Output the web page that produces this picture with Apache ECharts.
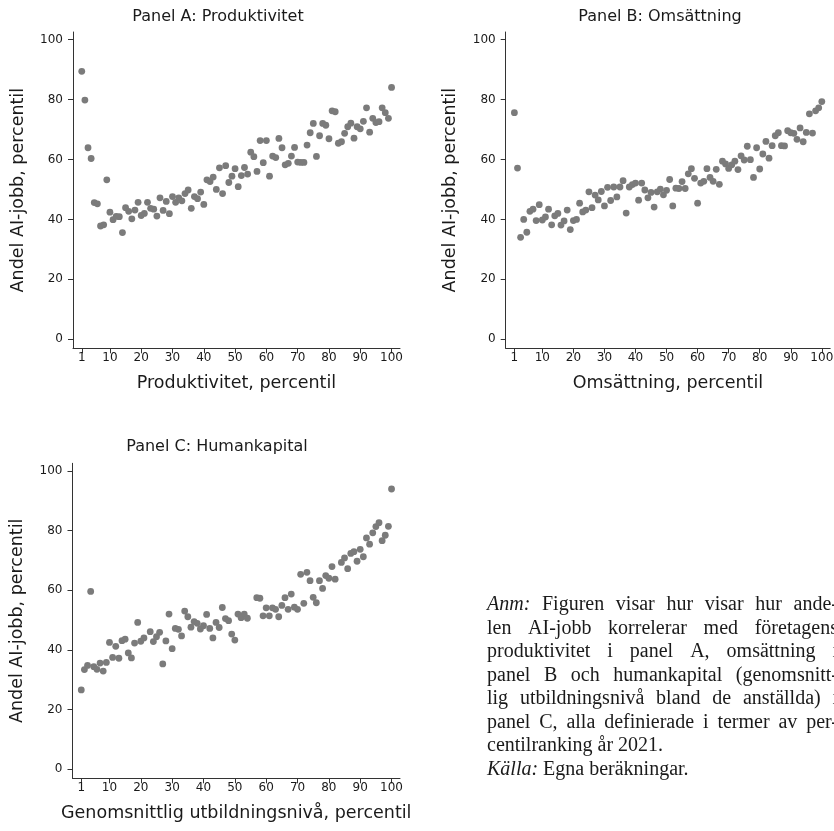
<!DOCTYPE html>
<html>
<head>
<meta charset="utf-8">
<script src="https://cdn.jsdelivr.net/npm/echarts@6/dist/echarts.min.js"></script>
<style>
html,body{margin:0;padding:0;background:#ffffff;}
#chart{width:834px;height:831px;}
</style>
</head>
<body>
<div id="chart"></div>
<script>
// ---------- data ----------
const percentiles = [1,2,3,4,5,6,7,8,9,10,11,12,13,14,15,16,17,18,19,20,
  21,22,23,24,25,26,27,28,29,30,31,32,33,34,35,36,37,38,39,40,
  41,42,43,44,45,46,47,48,49,50,51,52,53,54,55,56,57,58,59,60,
  61,62,63,64,65,66,67,68,69,70,71,72,73,74,75,76,77,78,79,80,
  81,82,83,84,85,86,87,88,89,90,91,92,93,94,95,96,97,98,99,100];

const xTicks = [1,10,20,30,40,50,60,70,80,90,100];
const yTicks = [0,20,40,60,80,100];

const panelTitles = ['Panel A: Produktivitet','Panel B: Omsättning','Panel C: Humankapital'];
const xNames = ['Produktivitet, percentil','Omsättning, percentil','Genomsnittlig utbildningsnivå, percentil'];
const yName = 'Andel AI-jobb, percentil';

const panelA = [89.4,79.8,63.9,60.3,45.6,45.2,37.8,38.2,53.2,42.4,
  39.9,41,40.9,35.6,43.9,42.7,40.2,43.1,45.7,41.3,
  42,45.7,43.7,43.4,41.1,47.2,43,46,41.9,47.6,
  45.7,47.2,46.2,48.6,49.8,43.7,47.6,46.9,49.1,45,
  53.2,52.6,54.1,50,57.2,48.6,57.9,52.3,54.4,56.9,
  50.9,54.6,57.3,55.1,62.4,60.9,56,66.3,58.9,66.3,
  54.4,61.1,60.6,67,63.9,58.2,58.7,61.1,64,59.1,
  59,59,64.8,68.9,72,61,67.9,72,71.4,66.9,
  76.2,75.9,65.4,65.9,68.7,70.9,72.1,67.1,70.9,70.2,
  72.7,77.2,69.1,73.7,72.3,72.6,77.2,75.6,73.7,84];

const panelB = [75.6,57.1,34,40,35.7,42.7,43.4,39.6,44.9,39.8,
  40.8,43.4,38.2,41.2,42,38.1,39.5,43.1,36.6,39.6,
  40,45.4,42.5,43.1,49.2,43.9,48.1,46.5,49.3,44.5,
  50.7,46.3,50.8,47.5,50.8,52.9,42.1,50.8,51.6,52.1,
  46.4,52.1,49.8,47.2,49,44.1,49.2,50.1,48.2,49.7,
  53.3,44.5,50.4,50.3,52.6,50.3,55.2,56.9,53.7,45.4,
  52.1,52.7,56.9,54,52.7,56.7,51.7,59.4,58.5,57,
  58.2,59.4,56.6,61.2,59.8,64.4,59.9,54,63.9,56.8,
  61.8,66,60.4,64.6,67.9,68.9,64.6,64.5,69.6,68.9,
  68.7,66.7,70.5,65.9,69,75.2,68.8,76.2,77.2,79.3];

const panelC = [26.6,33.4,34.8,59.6,34.4,33.5,35.6,32.9,35.8,42.5,
  37.5,41.2,37.2,43.1,43.6,39,37.3,42.3,49.2,42.9,
  44,null,46.1,42.8,44.4,45.9,35.3,43,52,40.4,
  47.2,46.9,44.7,53,51.1,47.6,49.5,48.9,47,48.1,
  51.9,47.2,44,49.2,47.5,54.2,50.5,49.8,45.3,43.3,
  52,50.8,52,50.6,null,null,57.5,57.3,51.4,54.1,
  51.4,54.1,53.6,51.1,54.9,57.5,53.6,58.7,54.3,53.6,
  65.3,55.6,66,63.2,57.6,55.8,63.2,60.6,64.9,64,
  67.9,63.7,null,69.3,70.8,67.2,72.3,72.9,69.7,73.7,
  71.2,77.5,75.4,79.2,81.3,82.6,76.6,78.4,81.4,93.9];

const noteLines = [
  '*Anm:* Figuren visar hur visar hur ande-',
  'len AI-jobb korrelerar med företagens',
  'produktivitet i panel A, omsättning i',
  'panel B och humankapital (genomsnitt-',
  'lig utbildningsnivå bland de anställda) i',
  'panel C, alla definierade i termer av per-',
  'centilranking år 2021.',
  '*Källa:* Egna beräkningar.'
];
const noteJustify = [true,true,true,true,true,true,false,false];

// ---------- layout / style ----------
const SANS = 'DejaVu Sans';
const SERIF = 'Liberation Serif';
const TEXT = '#1a1a1a';
const AXIS = '#333333';
const DOT = '#7b7b7b';

const grids = [
  {left:73,   top:32,    width:327,   height:316.3},
  {left:505.7,top:32,    width:324.5, height:316.3},
  {left:72.5, top:463.3, width:327.5, height:315}
];
const titlePos = [[218,17],[660,17],[217,447]];

function pairs(ys){
  const out = [];
  for (let i=0;i<percentiles.length;i++){
    if (ys[i] !== null && ys[i] !== undefined) out.push([percentiles[i], ys[i]]);
  }
  return out;
}

function xAxis(gi){
  return {
    type:'value', gridIndex:gi, min:-1.8, max:102.7,
    name:xNames[gi], nameLocation:'middle', nameGap:26,
    nameTextStyle:{fontFamily:SANS, fontSize:17.5, color:TEXT},
    axisLine:{show:true, onZero:false, lineStyle:{color:AXIS, width:1}},
    axisTick:{show:true, length:5, customValues:xTicks, lineStyle:{color:AXIS, width:1}},
    axisLabel:{show:true, customValues:xTicks, margin:4, fontFamily:SANS, fontSize:12, color:TEXT},
    splitLine:{show:false}
  };
}
function yAxis(gi){
  return {
    type:'value', gridIndex:gi, min:-3, max:102.5,
    name:yName, nameLocation:'middle', nameGap:46,
    nameTextStyle:{fontFamily:SANS, fontSize:17.5, color:TEXT},
    axisLine:{show:true, onZero:false, lineStyle:{color:AXIS, width:1}},
    axisTick:{show:true, length:5, customValues:yTicks, lineStyle:{color:AXIS, width:1}},
    axisLabel:{show:true, customValues:yTicks, margin:10, fontFamily:SANS, fontSize:12, color:TEXT},
    splitLine:{show:false}
  };
}

// ---------- justified notes ----------
const NOTE_X = 487, NOTE_W = 351, NOTE_SIZE = 20, NOTE_BASE = 605, NOTE_PITCH = 23.5;
const mctx = document.createElement('canvas').getContext('2d');
function measure(word, italic){
  mctx.font = (italic ? 'italic ' : '') + NOTE_SIZE + 'px "' + SERIF + '"';
  return mctx.measureText(word).width;
}
const noteElems = [];
noteLines.forEach((line, li) => {
  const words = line.split(' ').map(w => {
    const it = w.startsWith('*') && w.endsWith('*');
    const t = it ? w.slice(1, -1) : w;
    return {t, it, w: measure(t, it)};
  });
  const sum = words.reduce((s, o) => s + o.w, 0);
  const sp = measure(' ', false);
  const gap = (noteJustify[li] && words.length > 1) ? (NOTE_W - sum) / (words.length - 1) : sp;
  let x = NOTE_X;
  words.forEach(o => {
    noteElems.push({
      type:'text', x:x, y:NOTE_BASE + li*NOTE_PITCH, silent:true,
      style:{text:o.t, fontFamily:SERIF, fontSize:NOTE_SIZE, fontStyle:o.it ? 'italic' : 'normal',
             fill:TEXT, align:'left', verticalAlign:'middle'}
    });
    x += o.w + gap;
  });
});

const titleElems = panelTitles.map((t, i) => ({
  type:'text', x:titlePos[i][0], y:titlePos[i][1], silent:true,
  style:{text:t, fontFamily:SANS, fontSize:16, fill:TEXT, align:'center', verticalAlign:'middle'}
}));

const option = {
  animation:false,
  backgroundColor:'#ffffff',
  grid: grids.map(g => Object.assign({containLabel:false, outerBoundsMode:'none'}, g)),
  xAxis:[xAxis(0), xAxis(1), xAxis(2)],
  yAxis:[yAxis(0), yAxis(1), yAxis(2)],
  series:[panelA, panelB, panelC].map((d, i) => ({
    type:'scatter', xAxisIndex:i, yAxisIndex:i, data:pairs(d),
    symbol:'circle', symbolSize:6.8, itemStyle:{color:DOT, opacity:1}, silent:true
  })),
  graphic:{elements: titleElems.concat(noteElems)}
};

const chart = echarts.init(document.getElementById('chart'), null, {renderer:'canvas'});
chart.setOption(option);
</script>
</body>
</html>
